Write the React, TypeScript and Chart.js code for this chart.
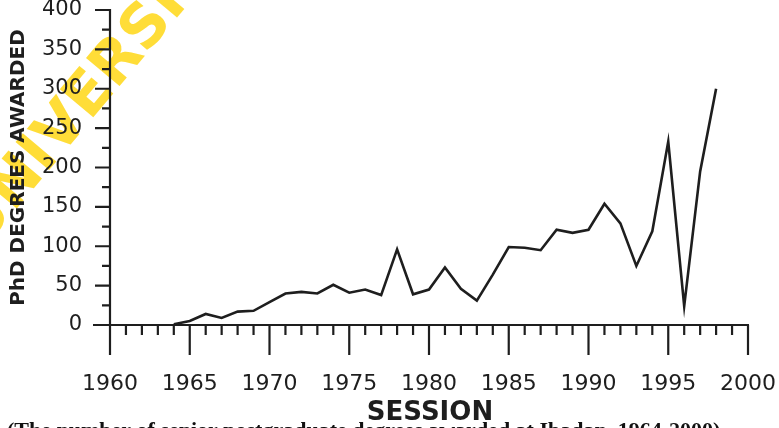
import React, { useEffect, useRef } from "react";
import { Chart, registerables } from "chart.js";

Chart.register(...registerables);

const years: number[] = [
  1964, 1965, 1966, 1967, 1968, 1969, 1970, 1971, 1972, 1973, 1974, 1975,
  1976, 1977, 1978, 1979, 1980, 1981, 1982, 1983, 1984, 1985, 1986, 1987,
  1988, 1989, 1990, 1991, 1992, 1993, 1994, 1995, 1996, 1997, 1998,
];
const phdDegrees: number[] = [
  1, 5, 14, 9, 17, 18, 29, 40, 42, 40, 51, 41,
  45, 38, 96, 39, 45, 73, 46, 31, 64, 99, 98, 95,
  121, 117, 121, 154, 129, 75, 119, 233, 24, 195, 300,
];
const xMin = 1960;
const xMax = 2000;
const xMajorStep = 5;
const yMin = 0;
const yMax = 400;
const yMajorStep = 50;
const yTitle = "PhD DEGREES AWARDED";
const xTitle = "SESSION";
const caption =
  "(The number of senior postgraduate degrees awarded at Ibadan, 1964-2000)";
const watermark = "UNIVERSITY OF IBADAN";

const INK = "#1e1e1e";

const zeroPad = (s: any) => {
  s.paddingLeft = 0;
  s.paddingRight = 0;
  s.paddingTop = 0;
  s.paddingBottom = 0;
};

const decorPlugin = {
  id: "decor",
  beforeDraw(chart: any) {
    const ctx = chart.ctx;
    ctx.save();
    ctx.fillStyle = "#ffffff";
    ctx.fillRect(0, 0, chart.width, chart.height);
    // watermark
    ctx.translate(-30, 240);
    ctx.rotate((-50 * Math.PI) / 180);
    ctx.font = "bold 60px 'DejaVu Sans'";
    ctx.fillStyle = "rgba(255, 212, 0, 0.78)";
    ctx.textAlign = "left";
    ctx.textBaseline = "middle";
    ctx.fillText(watermark, 0, 0);
    ctx.restore();
  },
  afterDraw(chart: any) {
    const ctx = chart.ctx;
    const xs = chart.scales.x;
    const ys = chart.scales.y;
    const left = xs.getPixelForValue(xMin);
    const right = xs.getPixelForValue(xMax);
    const top = ys.getPixelForValue(yMax);
    const bottom = ys.getPixelForValue(yMin);
    ctx.save();
    ctx.strokeStyle = INK;
    ctx.lineWidth = 2.2;
    ctx.lineCap = "butt";
    ctx.beginPath();
    // y axis line
    ctx.moveTo(left, top - 1);
    ctx.lineTo(left, bottom + 1);
    // x axis line
    ctx.moveTo(left - 17, bottom);
    ctx.lineTo(right + 1, bottom);
    // y ticks
    for (let v = yMin; v <= yMax; v += yMajorStep / 2) {
      const py = ys.getPixelForValue(v);
      const major = v % yMajorStep === 0;
      ctx.moveTo(left - (major ? 15 : 8), py);
      ctx.lineTo(left, py);
    }
    // x ticks
    for (let yr = xMin; yr <= xMax; yr += 1) {
      const px = xs.getPixelForValue(yr);
      const major = yr % xMajorStep === 0;
      ctx.moveTo(px, bottom);
      ctx.lineTo(px, bottom + (major ? 30 : 10));
    }
    ctx.stroke();

    // y title
    ctx.fillStyle = INK;
    ctx.save();
    ctx.translate(19, (top + bottom) / 2);
    ctx.rotate(-Math.PI / 2);
    ctx.font = "bold 20px 'DejaVu Sans'";
    ctx.textAlign = "center";
    ctx.textBaseline = "middle";
    ctx.fillText(yTitle, 0, 0);
    ctx.restore();

    // x title
    ctx.font = "bold 26px 'DejaVu Sans'";
    ctx.textAlign = "center";
    ctx.textBaseline = "alphabetic";
    ctx.fillText(xTitle, 430, 420);

    // caption (cut off at the bottom edge)
    ctx.font = "bold 22px 'Liberation Serif'";
    ctx.textAlign = "left";
    ctx.fillStyle = "#111";
    ctx.fillText(caption, 7, 437);
    ctx.restore();
  },
};

export default function App() {
  const canvasRef = useRef<HTMLCanvasElement | null>(null);

  useEffect(() => {
    const canvas = canvasRef.current;
    if (!canvas) return;
    const points = years.map((yr, i) => ({ x: yr, y: phdDegrees[i] }));
    const chart = new Chart(canvas, {
      type: "line",
      data: {
        datasets: [
          {
            data: points,
            borderColor: INK,
            borderWidth: 2.6,
            pointRadius: 0,
            tension: 0,
            fill: false,
          },
        ],
      },
      options: {
        responsive: false,
        animation: false,
        devicePixelRatio: 1,
        layout: { padding: { left: 0, right: 31, top: 10, bottom: 0 } },
        plugins: {
          legend: { display: false },
          tooltip: { enabled: false },
        },
        scales: {
          x: {
            type: "linear",
            min: xMin,
            max: xMax,
            grid: { display: false, drawTicks: false },
            border: { display: false },
            ticks: {
              stepSize: xMajorStep,
              color: INK,
              padding: 46,
              maxRotation: 0,
              autoSkip: false,
              font: { family: "'DejaVu Sans'", size: 22 },
              callback: (v: any) => String(v),
            },
            afterFit: (s: any) => {
              s.height = 103;
              zeroPad(s);
            },
          },
          y: {
            type: "linear",
            min: yMin,
            max: yMax,
            grid: { display: false, drawTicks: false },
            border: { display: false },
            ticks: {
              stepSize: yMajorStep,
              color: INK,
              padding: 28,
              font: { family: "'DejaVu Sans'", size: 21 },
            },
            afterFit: (s: any) => {
              s.width = 110;
              zeroPad(s);
            },
          },
        },
      },
      plugins: [decorPlugin],
    });
    return () => chart.destroy();
  }, []);

  return (
    <div style={{ position: "absolute", left: 0, top: 0, width: 779, height: 428, background: "#fff" }}>
      <canvas ref={canvasRef} width={779} height={428} />
    </div>
  );
}
